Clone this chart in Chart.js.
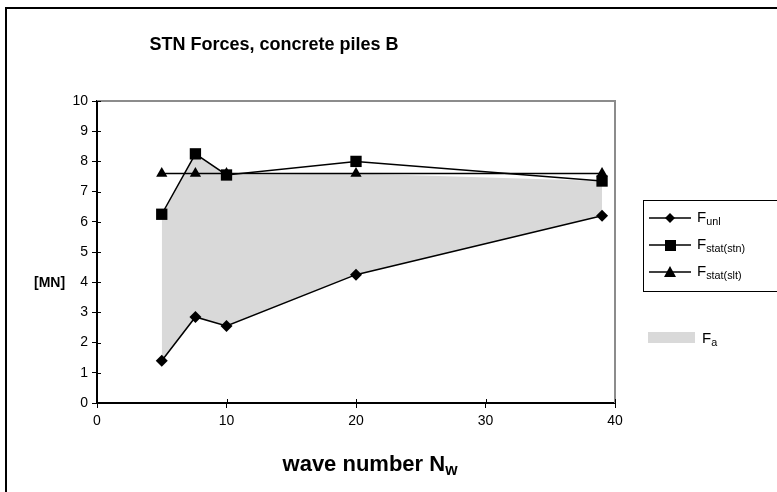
<!DOCTYPE html>
<html>
<head>
<meta charset="utf-8">
<script src="https://cdn.jsdelivr.net/npm/chart.js@4.4.0/dist/chart.umd.min.js"></script>
<style>
  body { margin: 0; background: #fff; font-family: Arial, "Liberation Sans", sans-serif; }
  #wrap { position: relative; width: 777px; height: 492px; overflow: hidden; }
  #frame { position: absolute; left: 5px; top: 7px; width: 800px; height: 500px; border-left: 2px solid #000; border-top: 2px solid #000; }
  .txt { position: absolute; white-space: nowrap; color: #000; }
  #title { left: 274px; top: 34px; transform: translateX(-50%); font-weight: bold; font-size: 18px; }
  #xtitle { left: 370px; top: 451px; transform: translateX(-50%); font-weight: bold; font-size: 22px; }
  #ytitle { left: 34px; top: 274px; font-weight: bold; font-size: 14px; }
  sub { font-size: 0.72em; vertical-align: -0.25em; line-height: 0; }
  #legend { position: absolute; left: 643px; top: 200px; width: 200px; height: 90px; border: 1px solid #000; }
  .item { position: absolute; left: 5px; height: 20px; font-size: 15px; }
  .item svg { position: absolute; left: 0; top: 0; }
  .item span { position: absolute; left: 48px; top: 0; }
  #fa { position: absolute; left: 648px; top: 329px; font-size: 15px; }
  #fa div { position: absolute; left: 0; top: 3px; width: 47px; height: 11px; background: #d9d9d9; }
  #fa span { position: absolute; left: 54px; top: 0; }
</style>
</head>
<body>
<div id="wrap">
  <canvas id="chart" width="777" height="492"></canvas>
  <div id="frame"></div>
  <div class="txt" id="title">STN Forces, concrete piles B</div>
  <div class="txt" id="ytitle">[MN]</div>
  <div class="txt" id="xtitle">wave number N<sub>w</sub></div>
  <div id="legend">
    <div class="item" style="top:7px">
      <svg width="44" height="20"><line x1="0" y1="10" x2="42" y2="10" stroke="#000" stroke-width="1.5"/><polygon points="21,5 26,10 21,15 16,10" fill="#000"/></svg>
      <span>F<sub>unl</sub></span>
    </div>
    <div class="item" style="top:34px">
      <svg width="44" height="20"><line x1="0" y1="10" x2="42" y2="10" stroke="#000" stroke-width="1.5"/><rect x="16" y="5" width="11" height="11" fill="#000"/></svg>
      <span>F<sub>stat(stn)</sub></span>
    </div>
    <div class="item" style="top:61px">
      <svg width="44" height="20"><line x1="0" y1="10" x2="42" y2="10" stroke="#000" stroke-width="1.5"/><polygon points="21,4 27,15 15,15" fill="#000"/></svg>
      <span>F<sub>stat(slt)</sub></span>
    </div>
  </div>
  <div id="fa"><div></div><span>F<sub>a</sub></span></div>
</div>
<script>
// wave number N_w
const waveNumbers = [5, 7.6, 10, 20, 39];
// forces [MN]
const fUnl = [1.4, 2.85, 2.55, 4.25, 6.2];
const fStatStn = [6.25, 8.25, 7.55, 8.0, 7.35];
const fStatSlt = [7.6, 7.6, 7.6, 7.6, 7.6];
// upper edge of the grey F_a band (lower edge is F_unl)
const fATop = [6.25, 8.25, 7.55, 7.6, 7.35];

const xTicks = [0, 10, 20, 30, 40];
const yTicks = [0, 1, 2, 3, 4, 5, 6, 7, 8, 9, 10];

function pts(ys) {
    return waveNumbers.map(function (x, i) { return { x: x, y: ys[i] }; });
}

// frame of the plot area and ticks that cross the axes
const plotFrame = {
    id: 'plotFrame',
    beforeDatasetsDraw(chart) {
        const a = chart.chartArea, c = chart.ctx;
        c.save();
        c.strokeStyle = '#8c8c8c';
        c.lineWidth = 2;
        c.beginPath();
        c.moveTo(a.left, a.top);
        c.lineTo(a.right, a.top);
        c.lineTo(a.right, a.bottom);
        c.stroke();
        c.restore();
    },
    afterDatasetsDraw(chart) {
        const a = chart.chartArea, c = chart.ctx;
        const xs = chart.scales.x, ys = chart.scales.y;
        c.save();
        c.strokeStyle = '#000';
        c.lineWidth = 1;
        yTicks.forEach(function (v) {
            const p = Math.round(ys.getPixelForValue(v)) + 0.5;
            c.beginPath(); c.moveTo(a.left, p); c.lineTo(a.left + 4, p); c.stroke();
        });
        xTicks.forEach(function (v) {
            const p = Math.round(xs.getPixelForValue(v)) + 0.5;
            c.beginPath(); c.moveTo(p, a.bottom); c.lineTo(p, a.bottom - 4); c.stroke();
        });
        c.restore();
    }
};

const common = {
    borderColor: '#000',
    backgroundColor: '#000',
    borderWidth: 1.5,
    pointBackgroundColor: '#000',
    pointBorderColor: '#000',
    pointBorderWidth: 0,
    fill: false,
    tension: 0
};

new Chart(document.getElementById('chart').getContext('2d'), {
    type: 'line',
    data: {
        datasets: [
            Object.assign({ label: 'F_unl', data: pts(fUnl), pointStyle: 'rectRot', pointRadius: 6 }, common),
            Object.assign({ label: 'F_stat(stn)', data: pts(fStatStn), pointStyle: 'rect', pointRadius: 8 }, common),
            Object.assign({ label: 'F_stat(slt)', data: pts(fStatSlt), pointStyle: 'triangle', pointRadius: 6.5 }, common),
            {
                label: 'F_a',
                data: pts(fATop),
                borderWidth: 0,
                borderColor: 'rgba(0,0,0,0)',
                backgroundColor: '#d9d9d9',
                pointRadius: 0,
                fill: { target: 0 },
                tension: 0
            }
        ]
    },
    options: {
        responsive: false,
        animation: false,
        layout: { padding: { left: 0, top: 101, right: 162, bottom: 0 } },
        plugins: {
            legend: { display: false },
            title: { display: false },
            tooltip: { enabled: false }
        },
        scales: {
            x: {
                type: 'linear',
                min: 0,
                max: 40,
                afterFit: function (s) { s.height = 89; },
                afterBuildTicks: function (s) { s.ticks = xTicks.map(function (v) { return { value: v }; }); },
                grid: { drawOnChartArea: false, color: '#000', tickLength: 5, tickWidth: 1 },
                border: { color: '#000', width: 2 },
                ticks: { color: '#000', padding: 5, maxRotation: 0, font: { family: 'Arial, "Liberation Sans", sans-serif', size: 14 } }
            },
            y: {
                type: 'linear',
                min: 0,
                max: 10,
                afterFit: function (s) { s.width = 97; },
                afterBuildTicks: function (s) { s.ticks = yTicks.map(function (v) { return { value: v }; }); },
                grid: { drawOnChartArea: false, color: '#000', tickLength: 5, tickWidth: 1 },
                border: { color: '#000', width: 2 },
                ticks: { color: '#000', padding: 4, font: { family: 'Arial, "Liberation Sans", sans-serif', size: 14 } }
            }
        }
    },
    plugins: [plotFrame]
});
</script>
</body>
</html>
